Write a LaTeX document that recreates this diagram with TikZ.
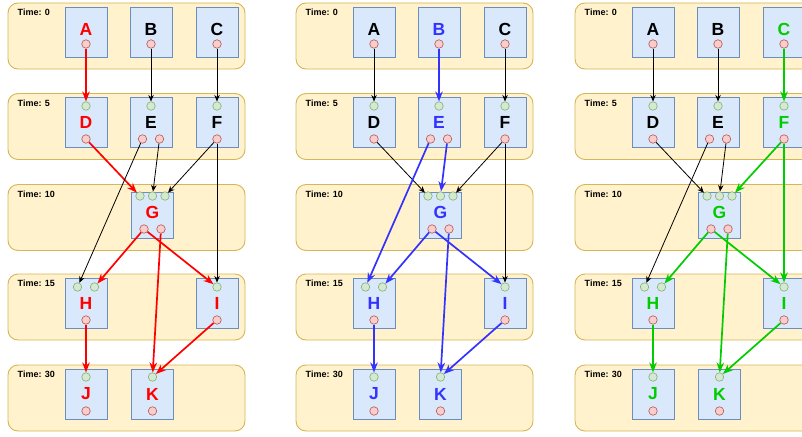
\documentclass[tikz,border=0pt]{standalone}
\usepackage{fontspec}
\setsansfont{Liberation Sans}
\usetikzlibrary{arrows.meta}
\definecolor{bandfill}{HTML}{FFF2CC}
\definecolor{bandline}{HTML}{D6B656}
\definecolor{boxfill}{HTML}{DAE8FC}
\definecolor{boxline}{HTML}{6C8EBF}
\definecolor{infill}{HTML}{D5E8D4}
\definecolor{inline}{HTML}{82B366}
\definecolor{outfill}{HTML}{F8CECC}
\definecolor{outline}{HTML}{B85450}
\definecolor{hotred}{HTML}{FF0000}
\definecolor{hotblue}{HTML}{3333FF}
\definecolor{hotgreen}{HTML}{00CC00}

\begin{document}
\begin{tikzpicture}[x=1pt, y=-1pt,
    band/.style={rectangle, rounded corners=10pt, draw=bandline, fill=bandfill,
      line width=0.9pt, minimum width=237pt, minimum height=66pt},
    tlabel/.style={anchor=north west, inner sep=0pt,
      font=\sffamily\bfseries\fontsize{9}{9}\selectfont},
    box/.style={rectangle, draw=boxline, fill=boxfill, line width=0.8pt,
      minimum width=42pt, minimum height=50pt, text=black,
      font=\sffamily\bfseries\fontsize{17.5}{17.5}\selectfont},
    upper/.style={text depth=6pt},
    inp/.style={circle, draw=inline, fill=infill, line width=0.6pt,
      minimum size=8.5pt, inner sep=0pt},
    outp/.style={circle, draw=outline, fill=outfill, line width=0.6pt,
      minimum size=8.5pt, inner sep=0pt},
    wire/.style={-{Stealth[length=6.5pt, width=5.5pt]}, line width=0.8pt, draw=black},
    hot/.style={-{Stealth[length=10pt, width=7.5pt]}, line width=1.7pt, draw=hl},
    % which nodes and wires are lit in a panel
    tA/.style={}, tB/.style={}, tC/.style={}, tD/.style={}, tE/.style={}, tF/.style={},
    tG/.style={text=hl}, tH/.style={text=hl}, tI/.style={text=hl},
    tJ/.style={text=hl}, tK/.style={text=hl},
    eA/.style=wire, eB/.style=wire, eC/.style=wire, eD/.style=wire,
    eE/.style=wire, eF/.style=wire,
    eG/.style=hot, eH/.style=hot, eI/.style=hot]

  \clip (0,0) rectangle (802,436);

  \foreach \p/\dx/\hue/\ra/\rb in {1/0/hotred/A/D, 2/288/hotblue/B/E, 3/567/hotgreen/C/F} {
    \colorlet{hl}{\hue}
    \begin{scope}[xshift=\dx,
        t\ra/.style={text=hl}, t\rb/.style={text=hl},
        e\ra/.style=hot, e\rb/.style=hot]

      % time bands
      \foreach \t/\y in {0/36, 5/126.5, 10/217.5, 15/307, 30/398} {
        \node[band] (\p band\t) at (126.5,\y) {};
        \node[tlabel] (\p time\t) at (17.5,\y-27) {Time: \t};
      }

      % tasks
      \node[box, upper, tA] (\p A) at (86,32) {A};
      \node[box, upper, tB] (\p B) at (151,32) {B};
      \node[box, upper, tC] (\p C) at (217,32) {C};
      \node[box, tD] (\p D) at (86,122.5) {D};
      \node[box, tE] (\p E) at (151,122.5) {E};
      \node[box, tF] (\p F) at (217,122.5) {F};
      \node[box, upper, tG, minimum height=46pt] (\p G) at (152.5,215) {G};
      \node[box, tH] (\p H) at (86,303) {H};
      \node[box, tI] (\p I) at (217,303) {I};
      \node[box, tJ] (\p J) at (86,394) {J};
      \node[box, tK] (\p K) at (152.5,394) {K};

      % ports
      \node[outp] (\p Aout) at (86,44) {};
      \node[outp] (\p Bout) at (151,44) {};
      \node[outp] (\p Cout) at (217,44) {};
      \node[inp] (\p Din) at (86,106) {};
      \node[outp] (\p Dout) at (86,139) {};
      \node[inp] (\p Ein) at (151,106) {};
      \node[outp] (\p Eout1) at (142.5,139) {};
      \node[outp] (\p Eout2) at (159.5,139) {};
      \node[inp] (\p Fin) at (217,106) {};
      \node[outp] (\p Fout) at (217,139) {};
      \node[inp] (\p Gin1) at (140,196) {};
      \node[inp] (\p Gin2) at (152.5,196) {};
      \node[inp] (\p Gin3) at (165,196) {};
      \node[outp] (\p Gout1) at (144,229) {};
      \node[outp] (\p Gout2) at (161,229) {};
      \node[inp] (\p Hin1) at (77.5,287) {};
      \node[inp] (\p Hin2) at (94.5,287) {};
      \node[outp] (\p Hout) at (86,320) {};
      \node[inp] (\p Iin) at (217,287) {};
      \node[outp] (\p Iout) at (217,320) {};
      \node[inp] (\p Jin) at (86,377) {};
      \node[outp] (\p Jout) at (86,411) {};
      \node[inp] (\p Kin) at (152.5,377) {};
      \node[outp] (\p Kout) at (152.5,411) {};

      % dependencies
      \draw[eA] (\p Aout) -- (\p Din);
      \draw[eB] (\p Bout) -- (\p Ein);
      \draw[eC] (\p Cout) -- (\p Fin);
      \draw[eD] (\p Dout) -- (\p Gin1);
      \draw[eE] (\p Eout1) -- (\p Hin1);
      \draw[eE] (\p Eout2) -- (\p Gin2);
      \draw[eF] (\p Fout) -- (\p Gin3);
      \draw[eF] (\p Fout) -- (\p Iin);
      \draw[eG] (\p Gout1) -- (\p Hin2);
      \draw[eG] (\p Gout1) -- (\p Iin);
      \draw[eG] (\p Gout2) -- (\p Kin);
      \draw[eH] (\p Hout) -- (\p Jin);
      \draw[eI] (\p Iout) -- (\p Kin);
    \end{scope}
  }
\end{tikzpicture}
\end{document}
